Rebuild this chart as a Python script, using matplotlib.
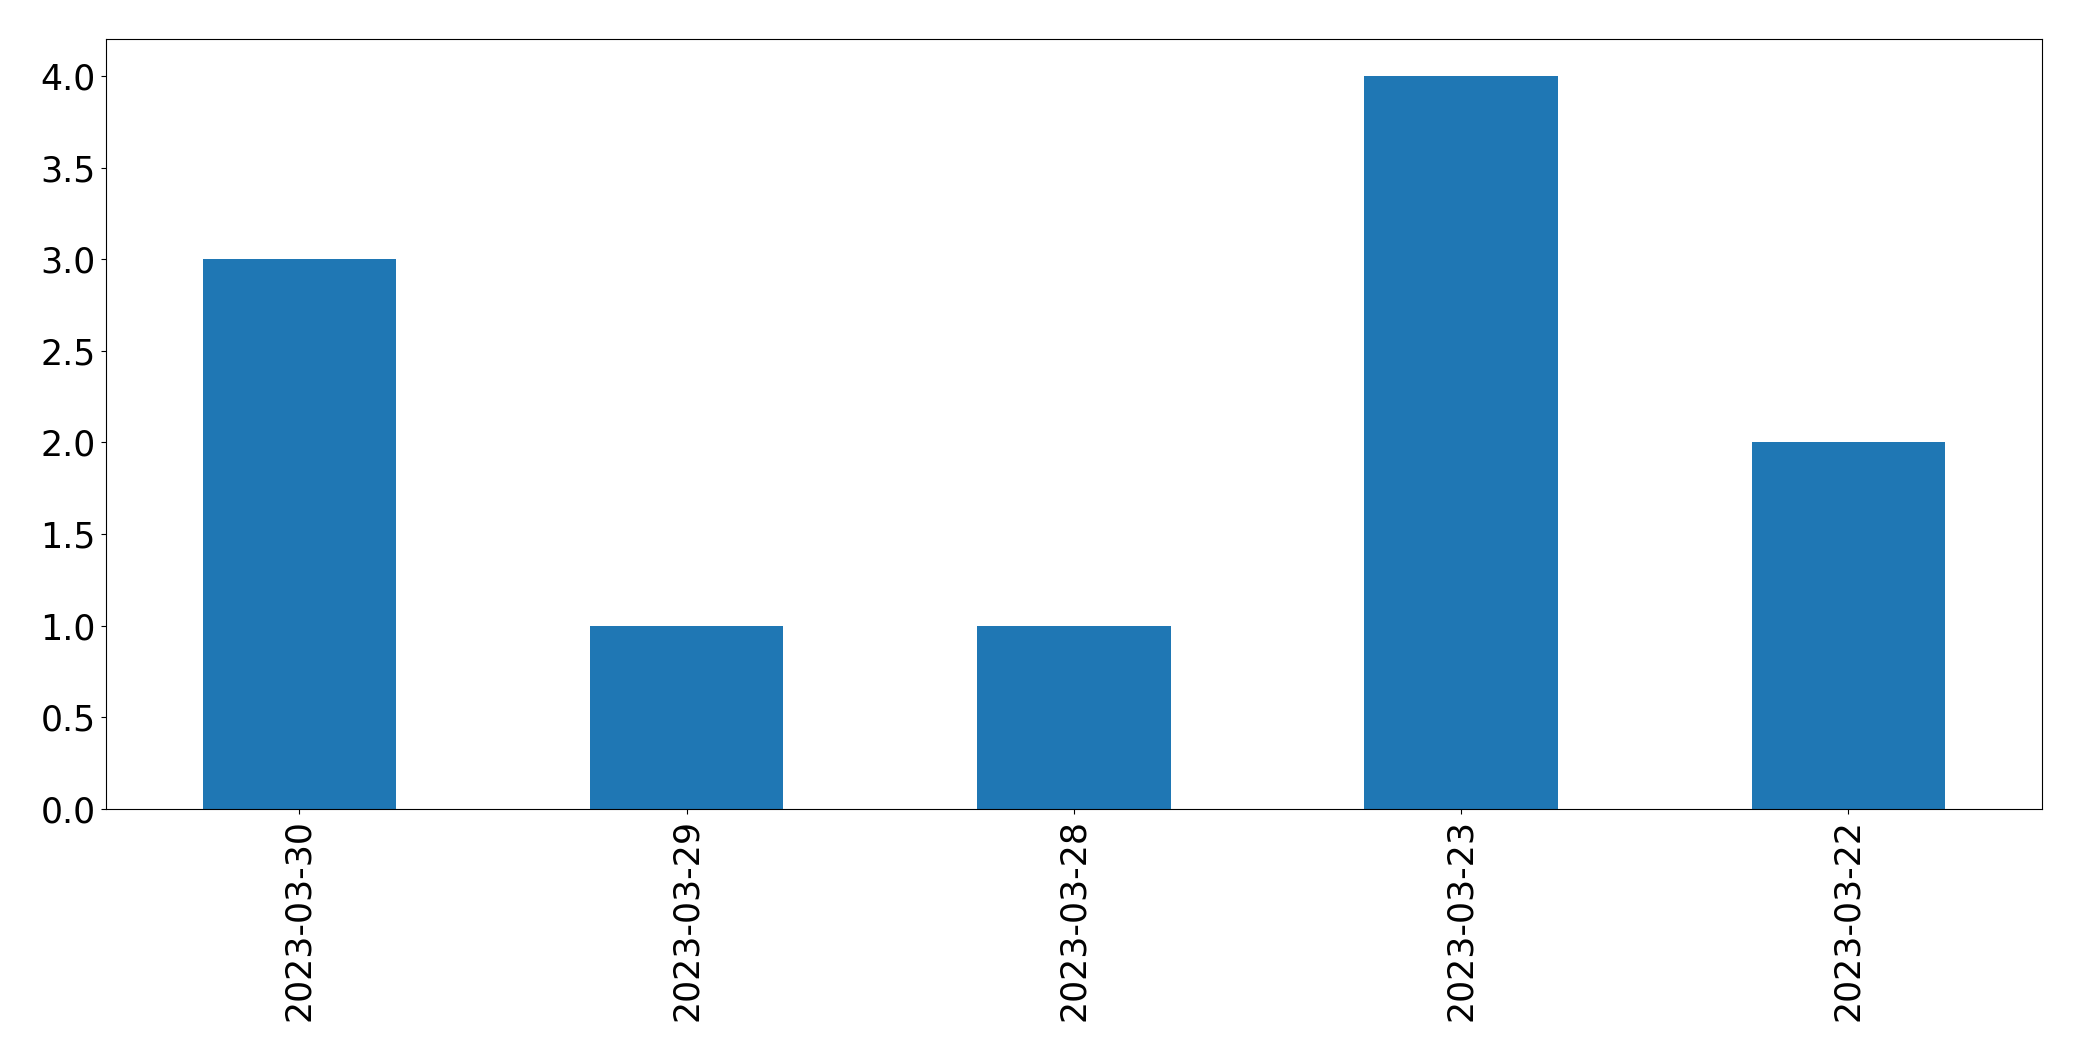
import matplotlib
matplotlib.use('Agg')
from matplotlib import pyplot as plt
import numpy as np

dates = ['2023-03-30', '2023-03-29', '2023-03-28', '2023-03-23', '2023-03-22']
counts = [3, 1, 1, 4, 2]

fig = plt.figure(figsize=(20.82, 10.61), dpi=100)
ax = fig.add_axes([105.7 / 2082, (1061 - 809) / 1061,
                   (2042 - 105.7) / 2082, (809 - 39.3) / 1061])

x = np.arange(len(dates))
ax.bar(x, counts, width=0.5, color='#1f77b4')
ax.set_xlim(-0.5, len(dates) - 0.5)
ax.set_xticks(x)
ax.set_xticklabels(dates, rotation=90)
ax.tick_params(axis='both', labelsize=25)

fig.savefig('out.png', dpi=100)
plt.close(fig)
